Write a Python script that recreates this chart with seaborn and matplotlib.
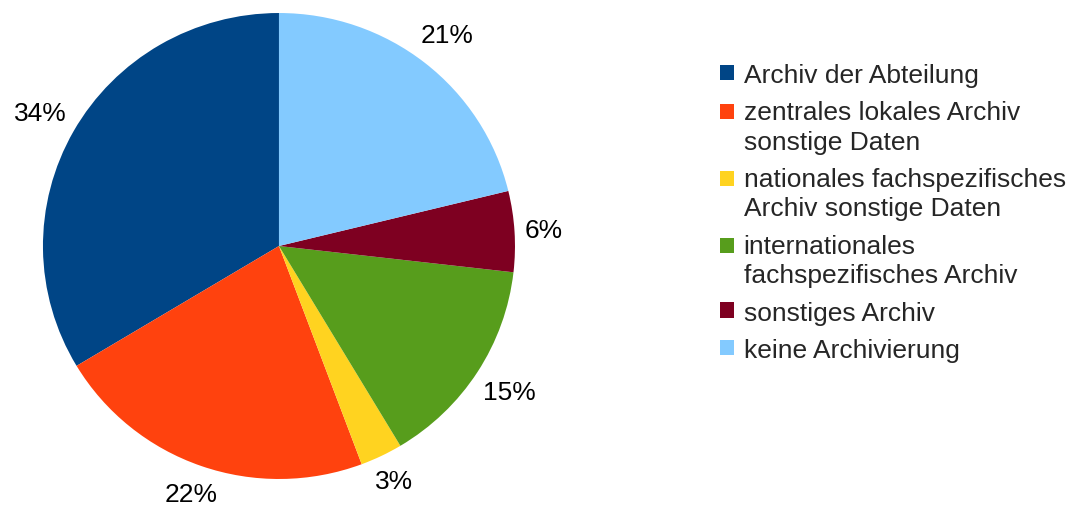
import matplotlib
matplotlib.use('Agg')

import numpy as np
import matplotlib.pyplot as plt
import matplotlib.patches as mpatches
from matplotlib.legend_handler import HandlerPatch
import seaborn as sns

categories = ['Archiv der Abteilung',
              'zentrales lokales Archiv\nsonstige Daten',
              'nationales fachspezifisches\nArchiv sonstige Daten',
              'internationales\nfachspezifisches Archiv',
              'sonstiges Archiv',
              'keine Archivierung']
shares = [33.6, 22.1, 2.9, 14.6, 5.6, 21.2]
colors = ['#004586', '#ff420e', '#ffd320', '#579d1c', '#7e0021', '#83caff']

sns.set_theme(style='white')
plt.rcParams['font.family'] = ['Liberation Sans', 'DejaVu Sans']

fig = plt.figure(figsize=(10.74, 5.06), dpi=100)
ax = fig.add_axes([0.0400, 0.0514, 0.4395, 0.9209])

pal = sns.color_palette(colors)
wedges, texts, autotexts = ax.pie(shares, colors=pal, startangle=90, counterclock=True,
                                  autopct='%.0f%%', pctdistance=1.15,
                                  wedgeprops=dict(linewidth=0))
ax.set_xlim(-1, 1)
ax.set_ylim(-1, 1)
ax.set_aspect('auto')
ax.axis('off')

# push each percentage label just outside the circle, like LibreOffice does
fig.canvas.draw()
r = fig.canvas.get_renderer()
inv = ax.transData.inverted()
for w, t in zip(wedges, autotexts):
    t.set_fontsize(19)
    t.set_color('black')
    bb = t.get_window_extent(r).transformed(inv)
    hw, hh = bb.width / 2, bb.height / 2
    th = np.deg2rad((w.theta1 + w.theta2) / 2)
    d = 1.04 + hw * abs(np.cos(th)) + hh * abs(np.sin(th))
    t.set_position((d * np.cos(th), d * np.sin(th)))


# legend squares sit next to the first line of a wrapped label
class FirstLineHandler(HandlerPatch):
    def __init__(self, nlines):
        super().__init__()
        self.shift = (nlines - 1) * 19 * 1.15 / 2

    def create_artists(self, legend, orig_handle, xdescent, ydescent,
                       width, height, fontsize, trans):
        p = mpatches.Rectangle((-xdescent, -ydescent + self.shift), width, height,
                               facecolor=orig_handle.get_facecolor(), linewidth=0,
                               transform=trans)
        return [p]


hmap = {w: FirstLineHandler(c.count('\n') + 1) for w, c in zip(wedges, categories)}
leg = fig.legend(wedges, categories, loc='upper left', bbox_to_anchor=(0.661, 0.895),
                 frameon=False, fontsize=19, handlelength=0.53, handleheight=0.53,
                 handletextpad=0.35, labelspacing=0.5, borderaxespad=0,
                 handler_map=hmap)
for t in leg.get_texts():
    t.set_linespacing(1.3)

fig.savefig('out.png', dpi=100)
